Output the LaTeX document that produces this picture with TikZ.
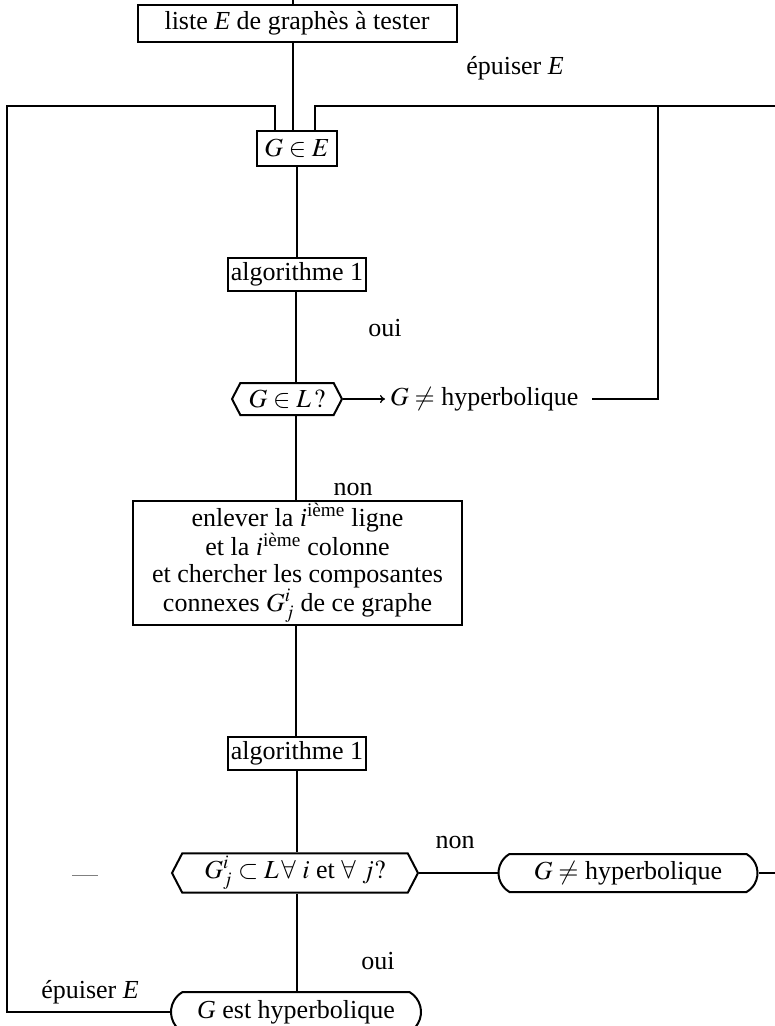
\documentclass[tikz,border=0pt]{standalone}
\usepackage{mathptmx}
\usepackage{fontspec}
\setmainfont{Liberation Serif}
\usetikzlibrary{shapes.symbols,shapes.misc,arrows.meta}
\begin{document}
\begin{tikzpicture}[x=1pt,y=-1pt, line width=2pt,
  every node/.style={font=\fontsize{26}{27}\selectfont},
  box/.style={draw, rectangle, inner xsep=3pt, inner ysep=2pt},
  hexa/.style={draw, signal, signal to=east and west, signal pointer angle=125, inner xsep=2pt, inner ysep=3pt, minimum height=32pt},
  capsule/.style={draw, rounded rectangle, rounded rectangle arc length=120, inner xsep=6pt, minimum height=38pt},
  lbl/.style={inner sep=1pt},
  conn/.style={draw, line width=2pt}]
\useasboundingbox (0,0) rectangle (775,1026);
\clip (0,0) rectangle (775,1026);

% nodes
\node[box, minimum width=319pt, minimum height=37pt] (top) at (297,23) {liste \textit{E} de graphès à tester};
\node[box, minimum width=80pt, minimum height=35pt] (ge) at (297,148) {$G\in E$};
\node[box, minimum height=33pt] (alg1) at (297,274) {algorithme 1};
\node[lbl] (oui1) at (385,328) {oui};
\node[hexa, minimum width=110pt] (hex1) at (287,399) {$G\in L\,?$};
\node[lbl, anchor=west] (hyp1) at (388,399) {$G\neq$ hyperbolique};
\node[lbl] (epu1) at (515,68) {épuiser \textit{E}};
\node[lbl] (non1) at (353,489) {non};
\node[box, minimum width=329pt, minimum height=117pt, align=center] (big) at (297.5,563)
  {enlever la \textit{i}\textsuperscript{ième} ligne\\
   et la \textit{i}\textsuperscript{ième} colonne\\
   et chercher les composantes\\
   connexes $G^{i}_{j}$ de ce graphe};
\node[box, minimum height=33pt] (alg2) at (297,753) {algorithme 1};
\node[hexa, minimum width=246pt] (hex2) at (295,873) {$G^{i}_{j}\subset L\,\forall\ i$ et $\forall\ j?$};
\node[lbl] (non2) at (455,842) {non};
\node[capsule, minimum width=271pt] (hyp2) at (628,873) {$G\neq$ hyperbolique};
\node[lbl] (oui2) at (378,961) {oui};
\node[capsule, minimum width=262pt, minimum height=40pt] (fin) at (296,1012) {\textit{G} est hyperbolique};
\node[lbl] (epu2) at (90,992) {épuiser \textit{E}};

% helper coordinates
\coordinate (tick) at (293,0);
\coordinate (lt) at (275,106);
\coordinate (rt) at (315,106);
\coordinate (farL) at (7,106);
\coordinate (farLb) at (7,1012);
\coordinate (farR) at (775,106);
\coordinate (rv) at (658,106);
\coordinate (rvb) at (658,399);
\coordinate (edgeR) at (775,873);
\coordinate (d1) at (72,875);
\coordinate (d2) at (98,875);

% connectors
\draw[conn] (tick) -- (top.north -| tick);
\draw[conn] (top.south -| tick) -- (ge.north -| tick);
\draw[conn] (ge.north -| lt) -- (lt) -- (farL) -- (farLb) -- (fin.west);
\draw[conn] (ge.north -| rt) -- (rt) -- (farR);
\draw[conn] (ge.south -| 297,0) -- (alg1.north -| 297,0);
\draw[conn] (alg1.south -| 296,0) -- (hex1.north -| 296,0);
\draw[line width=1.3pt, -{To[length=5pt,width=8pt]}] (hex1.east) -- ([xshift=-3pt]hyp1.west);
\draw[conn] ([xshift=12pt]hyp1.east) -- (rvb) -- (rv);
\draw[conn] (hex1.south -| 296,0) -- (big.north -| 296,0);
\draw[conn] (big.south -| 296,0) -- (alg2.north -| 296,0);
\draw[conn] (alg2.south -| 297,0) -- (hex2.north -| 297,0);
\draw[conn] (hex2.east) -- (hyp2.west);
\draw[conn] (hyp2.east) -- (edgeR);
\draw[conn] (hex2.south -| 297,0) -- (fin.north -| 297,0);
\draw[line width=0.6pt, gray] (d1) -- (d2);
\end{tikzpicture}
\end{document}
